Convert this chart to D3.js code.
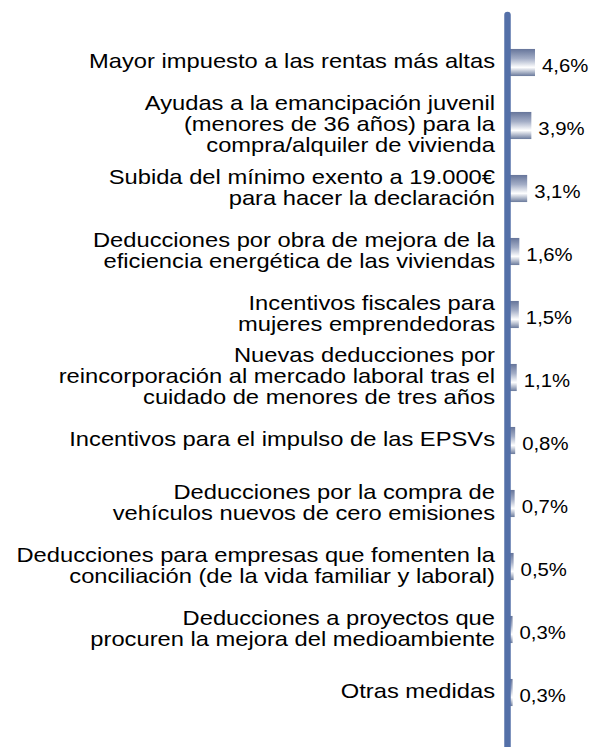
<!DOCTYPE html>
<html>
<head>
<meta charset="utf-8">
<script src="https://cdn.jsdelivr.net/npm/d3@7"></script>
<style>
  body { margin: 0; background: #fff; }
  text { font-family: "Liberation Sans", Arial, sans-serif; fill: #000; }
</style>
</head>
<body>
<svg id="chart" width="592" height="747"></svg>
<script>
// labels, one entry per bar (already split into lines)
var categories = [
  ["Mayor impuesto a las rentas más altas"],
  ["Ayudas a la emancipación juvenil", "(menores de 36 años) para la", "compra/alquiler de vivienda"],
  ["Subida del mínimo exento a 19.000€", "para hacer la declaración"],
  ["Deducciones por obra de mejora de la", "eficiencia energética de las viviendas"],
  ["Incentivos fiscales para", "mujeres emprendedoras"],
  ["Nuevas deducciones por", "reincorporación al mercado laboral tras el", "cuidado de menores de tres años"],
  ["Incentivos para el impulso de las EPSVs"],
  ["Deducciones por la compra de", "vehículos nuevos de cero emisiones"],
  ["Deducciones para empresas que fomenten la", "conciliación (de la vida familiar y laboral)"],
  ["Deducciones a proyectos que", "procuren la mejora del medioambiente"],
  ["Otras medidas"]
];
var values = [4.6, 3.9, 3.1, 1.6, 1.5, 1.1, 0.8, 0.7, 0.5, 0.3, 0.3];
var valueLabels = ["4,6%", "3,9%", "3,1%", "1,6%", "1,5%", "1,1%", "0,8%", "0,7%", "0,5%", "0,3%", "0,3%"];

var svg = d3.select("#chart");
var stretch = 1.13; // text in the picture is a bit wider than plain Arial

// gradient for the bars (cylinder look)
var grad = svg.append("defs").append("linearGradient")
    .attr("id", "barGrad")
    .attr("x1", 0).attr("y1", 0).attr("x2", 0).attr("y2", 1);
grad.append("stop").attr("offset", "0%").attr("stop-color", "#66759a");
grad.append("stop").attr("offset", "35%").attr("stop-color", "#a3adc6");
grad.append("stop").attr("offset", "68%").attr("stop-color", "#ffffff");
grad.append("stop").attr("offset", "100%").attr("stop-color", "#6a7a9c");

var idx = d3.range(values.length);

var y = d3.scaleBand()
    .domain(idx)
    .range([31, 724])
    .paddingInner(0.57)
    .paddingOuter(0.285);

var x = d3.scaleLinear()
    .domain([0, 4.6])
    .range([511, 535]);

// bars
svg.selectAll(".bar")
    .data(idx)
    .enter().append("rect")
    .attr("class", "bar")
    .attr("x", x(0) - 3)
    .attr("y", function(i){ return y(i); })
    .attr("width", function(i){ return x(values[i]) - x(0) + 3; })
    .attr("height", y.bandwidth())
    .attr("fill", "url(#barGrad)");

// vertical axis line
svg.append("line")
    .attr("x1", 507.5).attr("x2", 507.5)
    .attr("y1", 15).attr("y2", 770)
    .attr("stroke", "#5470a8")
    .attr("stroke-width", 6.5)
    .attr("stroke-linecap", "round");

// category labels
var lineH = 21;
var labels = svg.selectAll(".cat")
    .data(idx)
    .enter().append("g")
    .attr("class", "cat")
    .attr("transform", function(i){
        var c = y(i) + y.bandwidth() / 2;
        return "translate(495," + c + ") scale(" + stretch + ",1)";
    });

labels.each(function(i){
    var lines = categories[i];
    var g = d3.select(this);
    lines.forEach(function(t, k){
        g.append("text")
            .attr("x", 0)
            .attr("y", 5.5 + (k - (lines.length - 1) / 2) * lineH)
            .attr("text-anchor", "end")
            .style("font-size", "21px")
            .text(t);
    });
});

// value labels
svg.selectAll(".val")
    .data(idx)
    .enter().append("text")
    .attr("class", "val")
    .attr("transform", function(i){
        return "translate(" + (x(values[i]) + 7) + "," + (y(i) + y.bandwidth() / 2 + 9) + ") scale(" + stretch + ",1)";
    })
    .style("font-size", "18px")
    .text(function(i){ return valueLabels[i]; });
</script>
</body>
</html>
